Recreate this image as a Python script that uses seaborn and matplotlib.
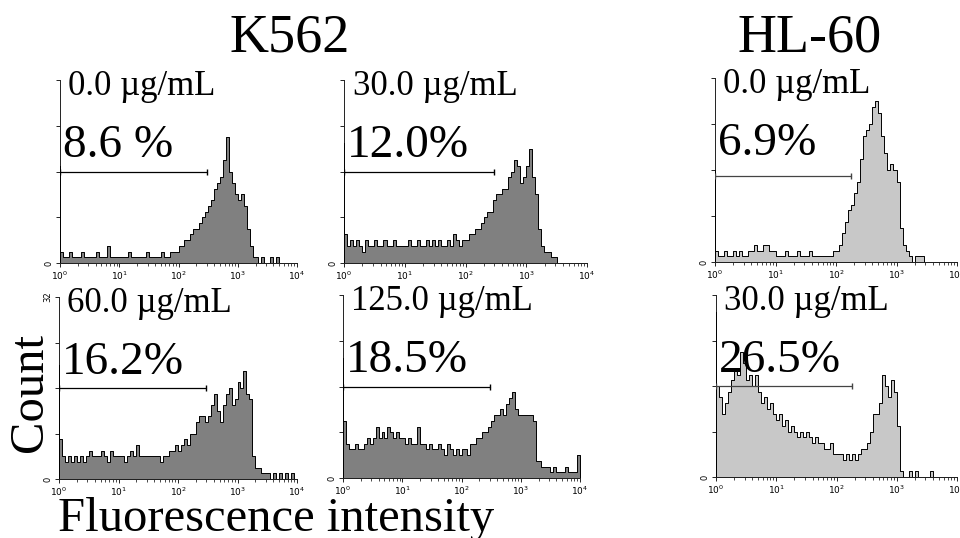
import numpy as np
import pandas as pd
import seaborn as sns
import matplotlib.pyplot as plt

# histogram counts, 20 bins per decade from 10^0 to 10^4 (80 bins)
k562_0 = [2,1,1,2,1,1,1,2,1,1, 1,1,2,1,1,1,3,1,1,1, 1,1,1,2,1,1,1,1,1,2,
          1,1,1,1,2,1,1,2,2,2, 3,3,4,4,5,6,6,7,8,9, 10,11,13,14,15,18,22,16,14,12,
          11,12,10,6,3,1,1,0,1,0, 0,1,0,1,0,0,0,0,0,0]
k562_30 = [5,3,4,3,4,3,2,4,3,3, 4,3,3,4,3,3,4,3,3,3, 3,4,3,3,4,3,3,4,3,4,
           3,4,3,3,4,3,5,4,3,4, 4,5,5,6,6,7,8,9,9,11, 12,12,13,13,15,16,18,17,14,15,
           17,20,15,12,6,3,2,2,1,1, 0,0,0,0,0,0,0,0,0,0]
k562_60 = [7,4,3,4,3,4,3,4,3,4, 5,4,4,4,5,4,3,5,4,4, 4,4,3,4,5,4,6,4,4,4,
           4,4,4,4,3,4,4,5,5,6, 5,6,7,6,8,8,10,11,11,10, 11,13,15,12,10,13,15,16,13,14,
           17,16,19,15,14,4,2,2,1,1, 1,0,1,0,1,0,1,0,1,0]
k562_125 = [10,6,5,5,6,5,5,6,7,6, 7,9,7,8,7,9,8,7,8,7, 7,6,7,6,6,9,6,6,5,6,
            5,5,6,5,4,6,5,4,5,4, 5,5,4,6,6,7,7,8,8,9, 10,11,11,12,11,13,14,15,12,11,
            11,11,11,11,10,3,3,2,2,2, 1,2,1,1,1,2,1,1,1,4]
hl60_0 = [2,1,1,2,1,1,2,1,2,1, 1,2,2,3,2,2,3,3,2,2, 1,1,1,2,1,1,1,2,1,1,
          1,2,1,1,1,1,1,1,1,2, 2,3,5,7,9,10,12,14,18,22, 23,24,27,28,26,22,19,16,17,16,
          14,6,3,2,1,0,1,1,1,0, 0,0,0,0,0,0,0,0,0,0]
hl60_30 = [16,14,11,13,15,17,19,18,22,20, 17,18,16,18,15,13,14,12,13,11,
           10,11,9,10,8,9,8,7,8,7, 8,7,6,7,6,6,5,5,6,4,
           4,4,3,4,3,4,3,4,5,5, 6,8,11,11,13,18,16,14,17,15,
           9,1,0,0,1,0,1,0,0,0, 0,1,0,0,0,0,0,0,0,0]

# count in the first channel (spike on the axis)
first_channel = [17, 21, 16, 20, 21, 29]
concentrations = ["0.0 µg/mL", "30.0 µg/mL", "0.0 µg/mL",
                  "60.0 µg/mL", "125.0 µg/mL", "30.0 µg/mL"]
percents = ["8.6 %", "12.0%", "6.9%", "16.2%", "18.5%", "26.5%"]
gate_end = [300, 300, 180, 300, 300, 180]
gate_level = [16, 16, 15, 16, 16, 16]
cells = ["K562", "K562", "HL-60", "K562", "K562", "HL-60"]
series = [k562_0, k562_30, hl60_0, k562_60, k562_125, hl60_30]

fill_colors = {"K562": "#808080", "HL-60": "#c8c8c8"}
gate_colors = {"K562": "black", "HL-60": "#444444"}

# axes boxes in pixels: left, right, top, bottom
boxes = [(60, 297, 80, 263), (344, 587, 80, 263), (715, 957, 78, 262),
         (59, 297, 297, 479), (343, 580, 295, 478), (716, 957, 295, 477)]

W, H = 960, 538
sns.set_style("ticks")
plt.rcParams['font.family'] = ['Liberation Serif', 'DejaVu Serif']
plt.rcParams['mathtext.fontset'] = 'dejavusans'
plt.rcParams['text.color'] = 'black'
plt.rcParams['xtick.color'] = 'black'
plt.rcParams['ytick.color'] = 'black'

fig = plt.figure(figsize=(W / 100, H / 100), dpi=100)

centers = 10 ** (np.arange(80) * 0.05 + 0.025)

for i, counts in enumerate(series):
    l, r, t, b = boxes[i]
    ax = fig.add_axes([l / W, 1 - b / H, (r - l) / W, (b - t) / H])
    df = pd.DataFrame({"x": centers, "n": counts})
    sns.histplot(data=df, x="x", weights="n", bins=80, binrange=(0, 4),
                 log_scale=True, element="step", fill=True, alpha=1,
                 color=fill_colors[cells[i]], edgecolor="black", linewidth=0.7,
                 ax=ax)
    ax.vlines(1.0, 0, first_channel[i], color="black", lw=1.4, zorder=5)
    ax.plot([1.0, gate_end[i]], [gate_level[i], gate_level[i]],
            color=gate_colors[cells[i]], lw=0.9, marker="|", ms=5, zorder=6)
    ax.set_xlim(1, 1e4)
    ax.set_ylim(0, 32)
    ax.set_xlabel("")
    ax.set_ylabel("")
    ax.set_yticks([0, 8, 16, 24, 32])
    ylabels = ["0", "", "", "", "32"] if i == 3 else ["0", "", "", "", ""]
    ax.set_yticklabels(ylabels, rotation=90, va="center", fontsize=6,
                       family="DejaVu Sans")
    ax.set_xticks([1, 10, 100, 1000, 10000])
    ax.set_xticklabels([r"$10^{0}$", r"$10^{1}$", r"$10^{2}$", r"$10^{3}$", r"$10^{4}$"],
                       fontsize=6.5)
    ax.tick_params(axis="both", which="major", length=3, width=0.6, pad=1.5)
    ax.tick_params(axis="x", which="minor", length=1.8, width=0.5)
    sns.despine(ax=ax)
    for s in ["left", "bottom"]:
        ax.spines[s].set_linewidth(0.7)
        ax.spines[s].set_color("#222222")
    ax.patch.set_alpha(0)
    ax.text(0.035, 0.962, concentrations[i], transform=ax.transAxes,
            fontsize=25, va="center", ha="left", zorder=10)
    ax.text(0.012, 0.64, percents[i], transform=ax.transAxes,
            fontsize=34, va="center", ha="left", zorder=10)

fig.text(290 / W, 1 - 38 / H, "K562", fontsize=39, ha="center", va="center")
fig.text(810 / W, 1 - 38 / H, "HL-60", fontsize=39, ha="center", va="center")
fig.text(30 / W, 1 - 392 / H, "Count", fontsize=35, rotation=90,
         ha="center", va="center")
fig.text(58 / W, 1 - 519 / H, "Fluorescence intensity", fontsize=35,
         ha="left", va="center")

fig.savefig("out.png", dpi=100)
